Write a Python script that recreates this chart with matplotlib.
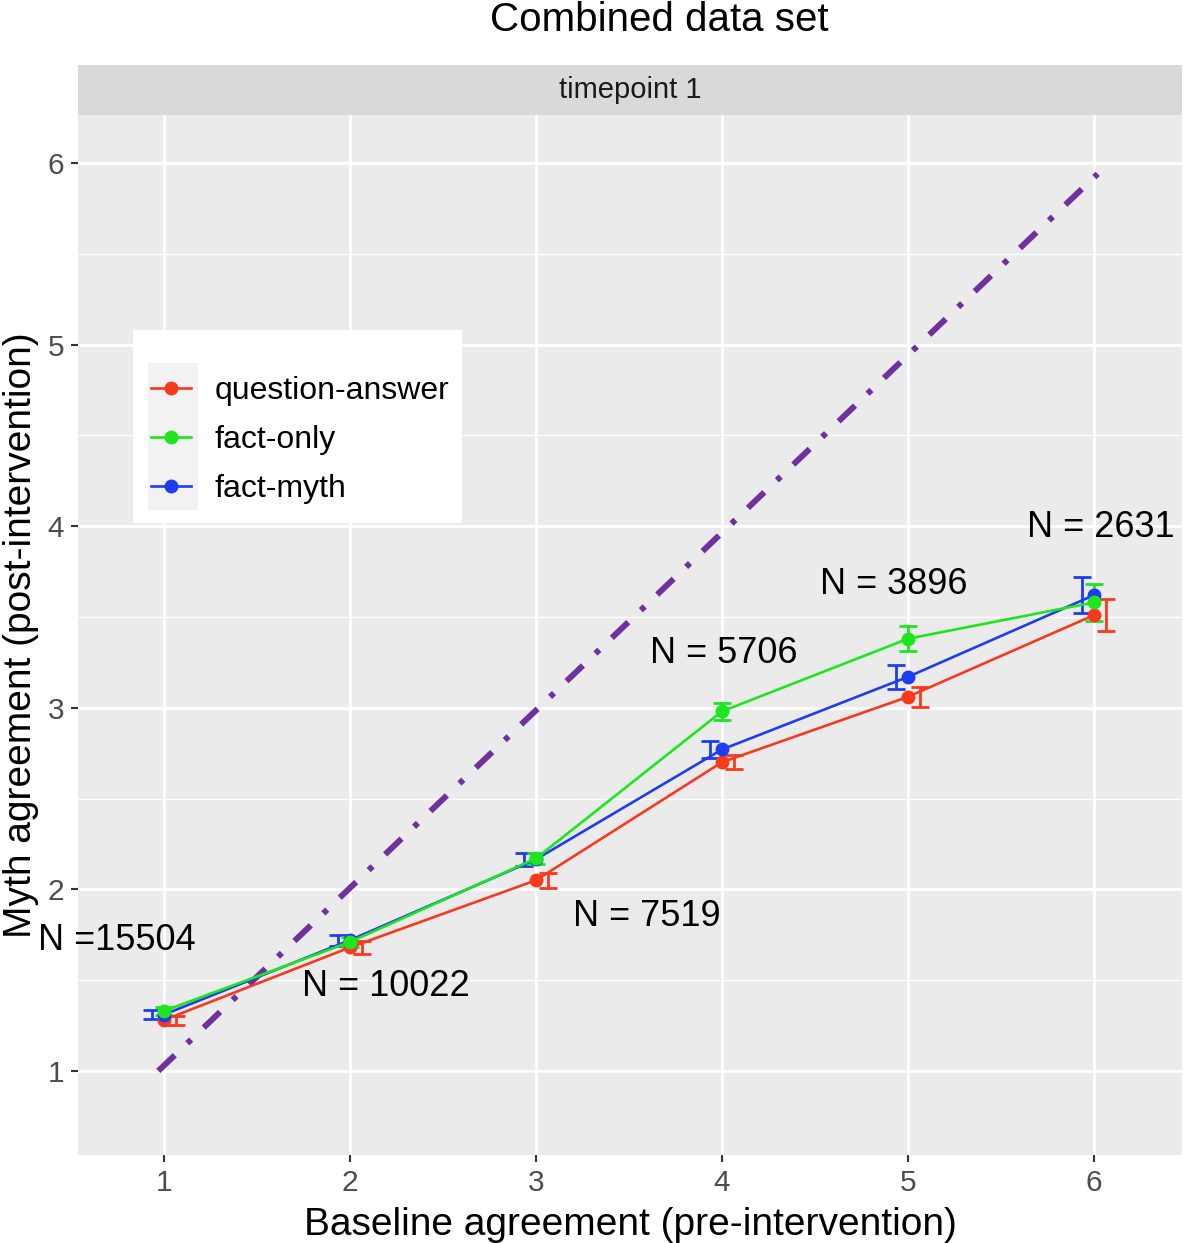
import numpy as np
import matplotlib
matplotlib.use('Agg')
import matplotlib.pyplot as plt
from matplotlib.lines import Line2D
from matplotlib.patches import Rectangle

plt.rcParams['font.family'] = ['Liberation Sans', 'DejaVu Sans']

# data
x = [1, 2, 3, 4, 5, 6]
series = ['question-answer', 'fact-only', 'fact-myth']
qa_mean = [1.28, 1.68, 2.05, 2.70, 3.06, 3.51]
qa_err = [0.025, 0.035, 0.04, 0.04, 0.055, 0.09]
fo_mean = [1.33, 1.71, 2.17, 2.98, 3.38, 3.58]
fo_err = [0.02, 0.03, 0.03, 0.045, 0.07, 0.10]
fm_mean = [1.31, 1.72, 2.165, 2.77, 3.17, 3.62]
fm_err = [0.025, 0.03, 0.035, 0.045, 0.065, 0.10]
n_labels = ['N =15504', 'N = 10022', 'N = 7519', 'N = 5706', 'N = 3896', 'N = 2631']
diag_x = [0.97, 6.02]
diag_y = [1.0, 5.94]

colors = {'question-answer': '#F8391E', 'fact-only': '#1EE61E', 'fact-myth': '#1E3CF0'}
means = {'question-answer': qa_mean, 'fact-only': fo_mean, 'fact-myth': fm_mean}
errs = {'question-answer': qa_err, 'fact-only': fo_err, 'fact-myth': fm_err}
dodge = {'question-answer': 0.065, 'fact-only': 0.0, 'fact-myth': -0.065}

W, H = 1184, 1243
fig = plt.figure(figsize=(W / 100, H / 100), dpi=100)
ax = fig.add_axes([78 / W, 1 - 1155 / H, 1104 / W, 1040 / H])
ax.set_facecolor('#EBEBEB')
for s in ax.spines.values():
    s.set_visible(False)

ax.set_xlim(0.538, 6.473)
ax.set_ylim(0.537, 6.264)
ax.set_xticks(x)
ax.set_yticks([1, 2, 3, 4, 5, 6])
ax.set_yticks([1.5, 2.5, 3.5, 4.5, 5.5], minor=True)
ax.grid(which='major', color='white', linewidth=2.0)
ax.grid(which='minor', axis='y', color='white', linewidth=1.0)
ax.set_axisbelow(True)
ax.tick_params(which='major', length=5, width=1.5, color='#333333',
               labelsize=21.5, labelcolor='#4D4D4D', pad=5)
ax.tick_params(which='minor', length=0)

# diagonal reference
ax.plot(diag_x, diag_y, color='#7030A0', linewidth=4.3, solid_capstyle='butt',
        dash_capstyle='butt', linestyle=(0, (3.8, 2.9, 0.9, 2.9)), zorder=2)

for name in ['question-answer', 'fact-myth', 'fact-only']:
    c = colors[name]
    m = np.array(means[name])
    e = np.array(errs[name])
    ax.errorbar(np.array(x) + dodge[name], m, yerr=e, fmt='none', ecolor=c,
                elinewidth=2, capsize=6.5, capthick=2, zorder=3)
    ax.plot(x, m, color=c, linewidth=1.9, marker='o', markersize=9, zorder=4)

# sample size labels
n_pos = [(0.323, 1.72), (1.742, 1.463), (3.199, 1.848), (3.613, 3.30), (4.527, 3.68), (5.64, 3.99)]
for lab, (px, py) in zip(n_labels, n_pos):
    ax.text(px, py, lab, fontsize=26, color='black', ha='left', va='center', zorder=6)

# legend
ax.add_patch(Rectangle((0.0498, 0.6077), 0.298, 0.1856, transform=ax.transAxes,
                       facecolor='white', edgecolor='none', zorder=5))
ax.add_patch(Rectangle((0.0634, 0.620), 0.0453, 0.1415, transform=ax.transAxes,
                       facecolor='#F2F2F2', edgecolor='none', zorder=5.1))
handles = [Line2D([], [], color=colors[n], linewidth=1.9, marker='o', markersize=9) for n in series]
leg = ax.legend(handles, series, loc='upper left', bbox_to_anchor=(0.066, 0.749),
                frameon=False, fontsize=23, handlelength=1.25, handletextpad=0.75,
                labelspacing=0.6, borderpad=0, borderaxespad=0)
leg.set_zorder(6)

ax.set_xlabel('Baseline agreement (pre-intervention)', fontsize=28, color='black', labelpad=7)
ax.set_ylabel('Myth agreement (post-intervention)', fontsize=28, color='black', labelpad=6)

# facet strip
strip = fig.add_axes([78 / W, 1 - 115 / H, 1104 / W, 50 / H])
strip.set_facecolor('#D9D9D9')
strip.set_xticks([])
strip.set_yticks([])
for s in strip.spines.values():
    s.set_visible(False)
strip.text(0.5, 0.5, 'timepoint 1', fontsize=21, color='#1A1A1A', ha='center', va='center',
           transform=strip.transAxes)

fig.text(659 / W, 1 - 20 / H, 'Combined data set', fontsize=29, ha='center', va='center')

fig.savefig('out.png', dpi=100)
